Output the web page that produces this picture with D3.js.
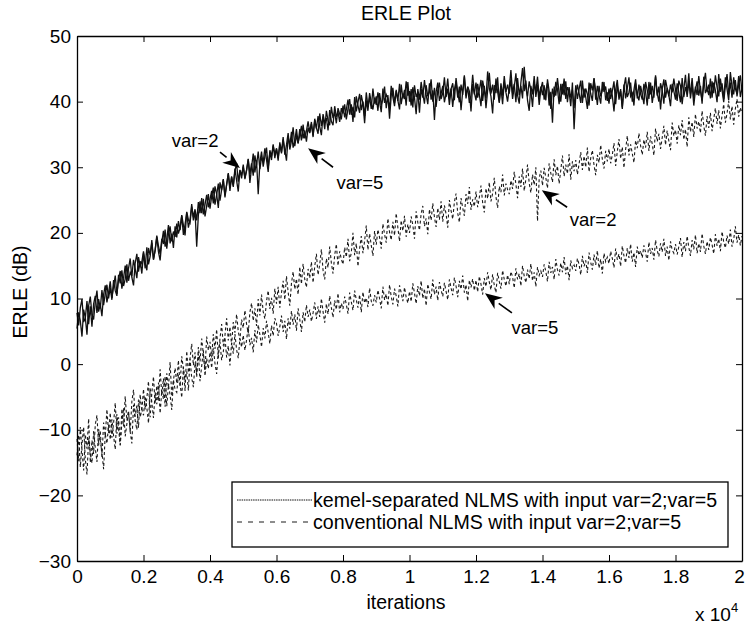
<!DOCTYPE html>
<html>
<head>
    <meta charset="utf-8">
    <title>ERLE Plot</title>
    <script src="https://d3js.org/d3.v7.min.js"></script>
    <style>
        html, body { margin: 0; background: #fff; }
        svg { display: block; }
        text { font-family: "Liberation Sans", Arial, sans-serif; fill: #000; }
        .kern { fill: none; stroke: #111; stroke-width: 1.3px; }
        .conv { fill: none; stroke: #1a1a1a; stroke-width: 1.1px; stroke-dasharray: 3,2.5; }
    </style>
</head>
<body>
    <svg></svg>
    <script>
        // values in dB, one every 50 iterations (0..20000)
        var step = 50;

        var kernelVar2 = [
            7.8, 5.9, 8.6, 9.9, 6.4, 7.1, 4.5, 8.9, 10.3, 7.6, 6.8, 9.5, 11.2, 8.0, 9.1, 7.3, 10.6, 12.0, 9.4, 10.9,
            12.6, 10.1, 11.8, 13.5, 10.7, 12.9, 14.2, 11.5, 13.1, 15.0, 12.4, 14.6, 16.1, 13.2, 12.0, 15.4, 16.8, 14.1, 15.7, 13.8,
            16.9, 14.6, 17.8, 15.2, 16.4, 18.9, 16.0, 17.3, 19.4, 17.1, 15.8, 18.6, 20.3, 17.9, 19.0, 21.2, 18.4, 19.9, 17.7, 21.0,
            19.3, 21.8, 20.4, 22.6, 19.7, 21.3, 23.1, 20.8, 22.0, 24.4, 21.9, 23.3, 17.9, 22.7, 24.8, 23.0, 25.2, 22.5, 24.1, 25.9,
            23.7, 25.6, 26.9, 24.3, 25.8, 27.5, 24.9, 26.6, 28.1, 25.7, 27.3, 29.0, 26.4, 28.6, 27.0, 29.4, 30.6, 27.8, 29.6, 28.3,
            30.4, 28.2, 29.5, 31.3, 27.6, 30.0, 32.1, 29.2, 31.0, 25.9, 30.7, 32.4, 30.1, 31.6, 33.0, 29.9, 32.2, 31.1, 33.5, 31.4,
            32.9, 31.0, 33.8, 32.3, 34.6, 31.9, 33.4, 35.2, 32.7, 34.0, 36.1, 33.2, 34.9, 33.6, 35.8, 34.1, 36.5, 34.4, 35.5, 37.0,
            35.3, 36.9, 34.6, 37.4, 36.0, 35.1, 38.2, 36.3, 37.7, 35.8, 38.6, 37.1, 36.4, 39.2, 37.5, 38.4, 36.7, 39.0, 38.1, 37.3,
            39.4, 37.6, 38.8, 40.3, 38.0, 39.6, 36.9, 40.7, 38.5, 39.9, 41.2, 38.7, 40.0, 37.8, 41.4, 39.3, 40.6, 38.9, 42.0, 39.7,
            40.8, 38.6, 41.3, 39.5, 40.4, 42.3, 39.0, 41.0, 37.4, 40.9, 42.1, 39.8, 41.6, 40.2, 38.8, 42.6, 40.5, 41.8, 39.4, 43.0,
            40.0, 41.9, 39.1, 42.5, 40.7, 41.4, 38.3, 42.0, 40.6, 43.3, 41.1, 39.6, 42.8, 40.3, 41.7, 37.2, 41.5, 42.9, 40.1, 41.2,
            42.4, 39.9, 41.3, 43.5, 40.4, 42.0, 39.2, 41.8, 43.1, 40.6, 42.3, 38.7, 41.6, 43.8, 40.9, 42.2, 39.8, 41.0, 44.1, 41.4,
            40.2, 42.7, 41.1, 39.3, 43.2, 41.8, 40.5, 44.6, 42.0, 40.8, 38.2, 42.5, 41.3, 43.7, 40.0, 42.1, 39.6, 43.0, 41.5, 42.6,
            41.2, 43.4, 40.4, 42.2, 44.3, 41.0, 39.7, 42.9, 45.1, 41.6, 43.2, 40.2, 38.6, 42.4, 41.1, 43.9, 40.7, 42.6, 39.5, 41.9,
            43.0, 40.3, 41.7, 42.8, 39.4, 41.5, 36.8, 42.3, 40.9, 43.6, 41.3, 40.0, 42.7, 41.0, 43.1, 39.9, 42.2, 40.6, 41.8, 39.0,
            42.5, 40.4, 41.9, 43.2, 39.8, 42.0, 40.7, 38.9, 42.9, 41.2, 40.1, 43.5, 41.6, 39.5, 42.4, 40.8, 41.7, 43.0, 40.2, 41.4,
            39.7, 42.1, 40.9, 38.5, 41.8, 43.3, 40.3, 41.6, 39.1, 42.6, 40.5, 42.0, 43.7, 40.8, 41.3, 39.4, 42.8, 41.0, 40.2, 42.4,
            41.1, 39.6, 43.0, 41.7, 40.4, 42.9, 39.8, 41.5, 44.0, 40.9, 42.3, 38.8, 41.9, 43.4, 40.6, 42.1, 41.0, 39.3, 42.7, 41.6,
            40.3, 42.8, 41.4, 39.9, 43.6, 40.7, 42.2, 41.1, 44.3, 40.5, 42.6, 39.4, 41.8, 43.1, 40.9, 42.4, 39.7, 43.8, 41.3, 42.0,
            41.0, 43.5, 40.6, 42.9, 41.7, 39.9, 44.2, 41.5, 42.8, 40.4, 43.7, 41.9, 40.2, 44.5, 42.3, 41.1, 43.3, 40.8, 42.6, 44.0,
            41.5
        ];

        var kernelVar5 = [
            5.4, 7.9, 6.6, 4.2, 8.3, 7.0, 9.6, 6.1, 8.8, 5.7, 9.2, 10.4, 7.8, 9.9, 8.5, 11.3, 9.0, 10.7, 12.1, 10.0,
            11.7, 9.8, 12.8, 11.2, 10.4, 13.6, 12.3, 14.3, 11.9, 13.0, 15.2, 12.7, 14.0, 13.4, 15.9, 14.5, 13.1, 16.3, 14.9, 15.6,
            17.2, 15.5, 14.3, 17.7, 16.6, 18.5, 15.9, 17.4, 19.6, 18.0, 16.8, 19.1, 18.3, 20.5, 17.6, 19.8, 21.0, 18.7, 20.2, 19.4,
            21.4, 19.9, 20.8, 22.7, 21.2, 19.6, 23.2, 22.0, 21.5, 24.0, 22.4, 23.6, 21.9, 24.7, 23.0, 25.3, 22.8, 24.3, 25.8, 23.9,
            25.1, 26.4, 24.5, 27.1, 25.9, 23.8, 27.7, 26.5, 28.2, 25.4, 27.4, 29.1, 26.9, 28.5, 27.2, 29.8, 28.0, 26.3, 29.5, 28.8,
            30.1, 28.4, 29.6, 31.2, 29.0, 30.6, 28.7, 31.8, 30.3, 32.4, 29.7, 31.5, 30.8, 32.9, 31.1, 29.3, 32.6, 31.7, 33.3, 32.0,
            32.8, 31.4, 33.5, 32.1, 34.2, 32.6, 31.0, 34.7, 33.3, 35.4, 33.0, 34.1, 35.8, 33.7, 34.9, 36.3, 34.4, 35.6, 33.9, 36.0,
            35.2, 36.6, 34.8, 37.2, 35.9, 37.8, 36.2, 34.9, 38.1, 36.8, 37.5, 35.6, 38.7, 37.0, 36.4, 39.3, 37.7, 38.4, 36.9, 39.0,
            38.2, 39.6, 37.3, 38.9, 40.4, 38.0, 39.2, 37.6, 40.8, 39.4, 38.3, 41.0, 39.7, 36.7, 40.2, 38.6, 41.3, 39.9, 38.8, 40.6,
            39.5, 41.4, 40.0, 38.4, 42.0, 39.8, 41.1, 40.5, 38.9, 42.4, 40.7, 39.3, 41.8, 40.1, 42.7, 39.6, 41.2, 40.4, 43.1, 40.9,
            41.6, 39.4, 42.2, 40.6, 38.1, 41.9, 40.3, 43.0, 41.2, 39.7, 42.5, 40.8, 41.5, 43.4, 40.0, 42.1, 39.2, 41.7, 42.9, 40.4,
            41.3, 43.7, 40.7, 42.0, 39.5, 41.9, 42.8, 40.2, 43.6, 41.4, 39.9, 42.6, 41.0, 44.0, 40.5, 42.3, 41.6, 38.5, 42.7, 41.1,
            42.9, 40.6, 41.8, 43.3, 40.1, 42.4, 39.0, 41.7, 44.4, 41.2, 42.6, 40.3, 43.5, 41.5, 39.8, 42.8, 40.9, 43.9, 41.4, 40.0,
            42.1, 44.8, 41.3, 42.7, 39.9, 43.6, 41.0, 42.4, 40.5, 45.3, 42.0, 40.8, 43.1, 41.7, 39.2, 42.9, 41.4, 43.8, 40.6, 42.3,
            41.0, 42.5, 40.2, 43.4, 41.6, 38.9, 42.0, 40.7, 43.0, 41.9, 39.6, 42.7, 41.1, 43.5, 40.4, 42.2, 41.5, 39.3, 42.9, 35.8,
            40.9, 42.6, 41.3, 39.8, 43.2, 40.6, 42.0, 41.1, 39.4, 42.8, 41.7, 43.6, 40.3, 42.4, 41.0, 39.7, 43.0, 41.5, 42.3, 40.1,
            42.0, 40.4, 41.6, 43.1, 39.6, 42.5, 40.8, 41.9, 38.9, 42.2, 43.7, 40.7, 41.4, 42.9, 40.0, 41.8, 43.4, 40.5, 42.6, 41.2,
            40.3, 42.7, 41.5, 39.4, 43.0, 41.1, 42.4, 40.6, 43.8, 41.3, 40.0, 42.8, 41.7, 39.7, 43.3, 42.0, 40.8, 42.6, 41.4, 43.5,
            41.8, 40.1, 43.2, 42.4, 39.6, 41.9, 44.1, 40.7, 42.9, 41.2, 43.6, 40.4, 42.3, 41.0, 43.9, 41.6, 40.2, 42.7, 44.4, 41.5,
            42.6, 40.5, 43.1, 41.3, 44.0, 42.2, 40.8, 43.5, 41.7, 39.9, 42.4, 44.2, 41.1, 42.9, 40.6, 43.7, 42.0, 41.2, 43.9, 40.7,
            42.1
        ];

        var convVar2 = [
            -11.4, -14.8, -9.6, -13.1, -16.2, -10.7, -12.9, -8.3, -15.0, -11.6, -13.7, -9.2, -7.8, -12.4, -10.1, -14.3, -8.9, -11.0, -6.9, -10.5,
            -7.4, -11.2, -9.0, -5.9, -10.6, -8.1, -12.3, -6.8, -9.5, -4.9, -8.6, -7.1, -10.4, -5.7, -3.9, -8.0, -6.3, -9.7, -4.6, -7.2,
            -3.8, -6.9, -5.2, -2.6, -8.1, -4.4, -1.9, -6.0, -3.3, -5.6, -0.8, -4.7, -2.2, -6.5, -1.4, -3.6, 0.3, -4.9, -2.5, -0.6,
            -2.9, 0.6, -3.4, 1.2, -0.7, -4.1, 2.0, -1.3, 0.9, 3.1, -0.2, 1.8, -2.0, 2.6, 0.4, 3.9, 1.5, -0.9, 4.2, 2.1,
            3.4, 1.0, 4.6, 2.3, 5.3, 0.9, 3.9, 6.1, 2.8, 4.4, 7.0, 3.6, 5.7, 2.9, 6.4, 4.8, 7.6, 5.0, 3.7, 6.8,
            5.5, 8.2, 6.1, 4.7, 7.9, 9.3, 6.6, 8.5, 5.8, 9.9, 7.4, 10.6, 8.0, 6.9, 9.6, 11.2, 8.4, 10.1, 7.7, 11.5,
            9.2, 11.8, 8.6, 10.9, 12.7, 9.8, 13.4, 11.0, 8.9, 12.3, 14.1, 11.4, 13.0, 10.6, 14.8, 12.2, 15.3, 12.9, 11.7, 14.5,
            13.1, 15.6, 12.4, 14.9, 16.8, 13.6, 15.2, 17.5, 14.3, 12.9, 16.1, 14.7, 17.9, 15.4, 13.8, 16.6, 18.3, 15.0, 17.2, 16.0,
            15.2, 17.8, 16.3, 19.1, 15.7, 17.0, 20.0, 16.6, 18.4, 14.9, 17.6, 19.5, 16.9, 18.8, 21.1, 17.4, 19.9, 18.1, 16.5, 20.3,
            18.2, 20.5, 19.3, 17.6, 21.4, 19.8, 18.5, 22.2, 20.1, 18.9, 21.7, 19.6, 23.0, 20.8, 18.7, 21.9, 20.3, 22.6, 19.4, 21.3,
            20.0, 22.5, 21.2, 19.1, 23.3, 21.6, 20.4, 22.9, 24.1, 21.0, 22.2, 19.8, 23.6, 21.9, 24.5, 22.4, 20.9, 23.8, 22.0, 24.8,
            21.7, 24.2, 22.9, 20.8, 25.0, 23.4, 22.1, 24.7, 26.0, 23.0, 21.6, 25.3, 23.8, 22.6, 25.9, 24.4, 27.0, 23.5, 25.1, 24.0,
            26.3, 23.9, 25.4, 27.2, 24.6, 23.1, 26.8, 25.2, 27.7, 24.8, 26.0, 28.4, 25.5, 23.8, 27.1, 26.2, 28.9, 25.7, 27.5, 26.6,
            25.9, 28.0, 26.7, 29.3, 27.4, 25.3, 28.6, 27.0, 29.8, 26.4, 28.2, 30.4, 27.6, 26.1, 28.9, 27.3, 30.0, 21.8, 28.3, 29.5,
            27.2, 29.9, 28.4, 26.8, 30.6, 29.1, 27.7, 31.2, 28.8, 30.2, 27.5, 29.6, 31.8, 28.6, 30.4, 29.0, 32.0, 28.1, 30.9, 29.4,
            31.1, 28.9, 30.5, 32.3, 29.6, 31.7, 30.0, 33.0, 29.3, 31.4, 32.6, 30.3, 28.8, 31.9, 30.7, 33.4, 31.2, 29.8, 32.5, 30.9,
            32.8, 30.6, 31.9, 33.7, 30.2, 32.4, 34.3, 31.3, 33.1, 29.9, 32.7, 34.8, 31.8, 33.5, 32.1, 30.7, 34.1, 32.9, 35.2, 33.3,
            31.9, 34.2, 33.0, 35.4, 32.5, 34.7, 33.6, 31.8, 35.9, 33.9, 35.1, 32.8, 34.5, 36.3, 33.4, 35.6, 34.0, 32.6, 36.8, 34.8,
            35.7, 33.6, 36.4, 34.9, 37.2, 34.2, 35.8, 33.1, 37.6, 35.4, 36.9, 34.6, 38.1, 35.9, 37.0, 35.2, 38.6, 36.3, 34.8, 37.8,
            36.0, 38.3, 35.5, 37.4, 39.0, 36.6, 38.7, 35.9, 37.9, 39.6, 36.8, 38.2, 40.1, 37.3, 39.3, 36.5, 38.9, 40.4, 37.7, 39.1,
            38.2
        ];

        var convVar5 = [
            -13.9, -10.8, -15.7, -12.2, -9.6, -14.5, -16.8, -11.3, -13.6, -15.1, -10.2, -12.8, -14.9, -9.9, -11.7, -13.4, -16.0, -10.6, -12.1, -9.3,
            -11.5, -8.4, -10.9, -13.0, -7.6, -9.8, -12.4, -8.9, -6.7, -11.0, -9.1, -7.3, -10.3, -12.1, -6.2, -8.6, -10.0, -5.4, -8.1, -6.9,
            -7.8, -4.9, -6.6, -9.0, -3.7, -5.8, -8.2, -4.3, -6.1, -2.8, -7.5, -4.0, -5.3, -1.9, -6.4, -3.2, -4.7, -7.0, -2.4, -3.9,
            -4.3, -1.6, -3.0, -5.1, -0.4, -2.7, -1.1, -4.0, 0.8, -2.1, -3.5, 0.2, -1.4, 1.6, -2.6, -0.3, 2.1, -1.8, 0.9, -0.7,
            1.8, -0.6, 2.5, 0.1, -1.5, 2.0, 3.4, 0.6, 1.9, 4.1, 1.0, 2.8, -0.2, 3.3, 1.6, 4.6, 2.2, 0.9, 3.9, 2.6,
            4.4, 2.1, 3.7, 5.6, 2.9, 4.0, 1.8, 5.2, 3.3, 6.0, 4.5, 2.6, 5.5, 3.9, 6.6, 4.8, 3.1, 5.9, 4.3, 7.0,
            6.2, 4.3, 5.7, 7.4, 4.9, 6.6, 3.8, 7.0, 5.4, 8.1, 6.0, 7.6, 5.1, 8.5, 6.8, 4.9, 7.9, 6.4, 9.0, 7.2,
            8.3, 6.5, 7.8, 9.4, 6.9, 8.8, 7.2, 10.0, 8.0, 6.3, 9.2, 7.6, 10.4, 8.6, 7.1, 9.7, 8.3, 10.8, 7.9, 9.3,
            8.4, 10.3, 9.1, 7.7, 10.9, 9.5, 8.2, 11.2, 9.8, 8.6, 10.6, 7.9, 11.0, 9.3, 10.1, 8.7, 11.6, 9.6, 8.9, 10.5,
            9.4, 11.3, 10.0, 8.5, 11.8, 9.8, 10.7, 8.9, 12.1, 10.3, 9.1, 11.5, 10.4, 8.8, 12.0, 10.9, 9.6, 11.7, 10.2, 9.3,
            11.1, 9.5, 12.3, 10.8, 9.2, 11.9, 10.4, 12.7, 10.0, 11.5, 8.9, 12.2, 11.0, 9.9, 12.9, 10.6, 11.8, 9.7, 12.5, 11.3,
            10.3, 12.4, 11.1, 9.8, 12.9, 11.6, 10.5, 13.2, 11.9, 10.2, 12.7, 11.4, 13.5, 10.9, 12.1, 9.6, 12.8, 11.7, 13.0, 11.2,
            12.8, 11.0, 13.4, 12.2, 10.6, 13.1, 11.8, 14.0, 12.5, 11.3, 13.7, 12.0, 10.9, 13.9, 12.6, 11.5, 14.3, 12.9, 11.9, 13.6,
            12.2, 14.1, 13.3, 11.6, 14.6, 12.9, 13.8, 11.9, 15.0, 13.4, 12.4, 14.4, 13.0, 15.3, 12.7, 14.0, 11.8, 14.8, 13.5, 14.2,
            13.3, 15.2, 14.1, 12.6, 15.6, 13.9, 14.8, 12.9, 16.0, 14.4, 13.5, 15.4, 14.0, 16.3, 13.7, 15.0, 12.8, 15.8, 14.6, 15.1,
            14.2, 16.1, 15.2, 13.6, 16.5, 14.9, 15.8, 13.9, 17.0, 15.5, 14.4, 16.7, 15.1, 17.3, 14.6, 16.0, 13.8, 16.9, 15.6, 16.3,
            15.3, 17.2, 16.1, 14.7, 17.6, 15.9, 16.8, 14.9, 18.0, 16.5, 15.4, 17.7, 16.2, 18.3, 15.6, 17.0, 14.8, 17.9, 16.6, 17.3,
            16.2, 18.1, 17.0, 15.6, 18.6, 16.8, 17.7, 15.9, 18.9, 17.3, 16.4, 18.4, 17.1, 19.1, 16.5, 17.9, 15.8, 18.7, 17.4, 16.9,
            18.3, 16.7, 17.9, 19.2, 16.3, 18.6, 17.2, 19.5, 17.8, 16.5, 18.9, 17.5, 19.7, 16.9, 18.4, 17.1, 19.9, 18.0, 16.8, 18.7,
            17.4, 19.3, 18.2, 16.8, 19.8, 18.0, 19.1, 17.2, 20.2, 18.6, 17.7, 19.6, 18.3, 20.5, 17.9, 19.0, 21.0, 18.5, 19.7, 18.1,
            19.5
        ];

        var xTicks = [0, 2000, 4000, 6000, 8000, 10000, 12000, 14000, 16000, 18000, 20000];
        var yTicks = [-30, -20, -10, 0, 10, 20, 30, 40, 50];

        var legendLabels = [
            "kemel-separated NLMS with input var=2;var=5",
            "conventional NLMS with input var=2;var=5"
        ];

        // annotation label position and arrow tail -> head, in data units
        var notes = [
            { label: "var=2", tx: 3550, ty: 34.1, x1: 4300, y1: 32.3, x2: 4900, y2: 29.9 },
            { label: "var=5", tx: 8510, ty: 27.7, x1: 7700, y1: 30.0, x2: 6950, y2: 32.9 },
            { label: "var=2", tx: 15520, ty: 22.0, x1: 14740, y1: 23.9, x2: 13980, y2: 26.5 },
            { label: "var=5", tx: 13770, ty: 5.6, x1: 13080, y1: 7.8, x2: 12270, y2: 10.8 }
        ];

        var W = 746, H = 628;
        var margin = { left: 77, right: 4, top: 36, bottom: 67 };

        var svg = d3.select("svg").attr("width", W).attr("height", H);

        var x = d3.scaleLinear().domain([0, 20000]).range([margin.left, W - margin.right]);
        var y = d3.scaleLinear().domain([-30, 50]).range([H - margin.bottom, margin.top]);

        var line = d3.line().x((d, i) => x(i * step)).y(d => y(d));

        var plot = svg.append("g");
        plot.append("path").datum(convVar5).attr("class", "conv").attr("d", line);
        plot.append("path").datum(convVar2).attr("class", "conv").attr("d", line);
        plot.append("path").datum(kernelVar5).attr("class", "kern").attr("d", line);
        plot.append("path").datum(kernelVar2).attr("class", "kern").attr("d", line);

        // matlab style box: ticks inside on all four sides
        var tickLen = 6;
        var fmtX = d => d3.format("~g")(d / 10000);

        svg.append("g")
            .attr("class", "xaxis")
            .attr("transform", `translate(0,${y(-30)})`)
            .call(d3.axisBottom(x).tickValues(xTicks).tickSizeInner(-tickLen).tickSizeOuter(0).tickPadding(9).tickFormat(fmtX));
        svg.append("g")
            .attr("transform", `translate(0,${y(50)})`)
            .call(d3.axisTop(x).tickValues(xTicks).tickSizeInner(-tickLen).tickSizeOuter(0).tickFormat(""));
        svg.append("g")
            .attr("transform", `translate(${x(0)},0)`)
            .call(d3.axisLeft(y).tickValues(yTicks).tickSizeInner(-tickLen).tickSizeOuter(0).tickPadding(6));
        svg.append("g")
            .attr("transform", `translate(${x(20000)},0)`)
            .call(d3.axisRight(y).tickValues(yTicks).tickSizeInner(-tickLen).tickSizeOuter(0).tickFormat(""));

        svg.selectAll(".domain").attr("stroke", "#000").attr("stroke-width", 1.3);
        svg.selectAll(".tick line").attr("stroke", "#000").attr("stroke-width", 1);
        svg.selectAll(".tick text").attr("font-size", 19).attr("font-family", "Liberation Sans, Arial, sans-serif");
        // last label sits at the window edge; nudge it in so it is not clipped
        svg.select(".xaxis").selectAll(".tick text").filter(d => d === 20000).attr("dx", -3);

        // titles
        svg.append("text").attr("x", 406).attr("y", 20).attr("text-anchor", "middle")
            .attr("font-size", 19.5).text("ERLE Plot");
        svg.append("text").attr("x", 406).attr("y", 609).attr("text-anchor", "middle")
            .attr("font-size", 19.5).text("iterations");
        svg.append("text")
            .attr("transform", "translate(27,292) rotate(-90)")
            .attr("text-anchor", "middle").attr("font-size", 19.5).text("ERLE (dB)");
        var mult = svg.append("text").attr("x", 695).attr("y", 621).attr("font-size", 19);
        mult.append("tspan").text("x 10");
        mult.append("tspan").attr("dy", -9).attr("font-size", 13).text("4");

        // annotations with filled arrowheads
        notes.forEach(function(n) {
            svg.append("text").attr("x", x(n.tx)).attr("y", y(n.ty)).attr("dy", "0.35em")
                .attr("text-anchor", "middle").attr("font-size", 18.5).text(n.label);
            var x1 = x(n.x1), y1 = y(n.y1), x2 = x(n.x2), y2 = y(n.y2);
            var ang = Math.atan2(y2 - y1, x2 - x1);
            var hl = 17, hw = 7;
            var bx = x2 - hl * Math.cos(ang), by = y2 - hl * Math.sin(ang);
            svg.append("line").attr("x1", x1).attr("y1", y1).attr("x2", bx).attr("y2", by)
                .attr("stroke", "#000").attr("stroke-width", 1.6);
            var px = -Math.sin(ang) * hw, py = Math.cos(ang) * hw;
            var nx = x2 - hl * 0.7 * Math.cos(ang), ny = y2 - hl * 0.7 * Math.sin(ang);
            svg.append("path")
                .attr("d", `M${x2},${y2} L${bx + px},${by + py} L${nx},${ny} L${bx - px},${by - py} Z`)
                .attr("fill", "#000");
        });

        // legend
        var lg = svg.append("g");
        lg.append("rect").attr("x", 232).attr("y", 482).attr("width", 496).attr("height", 65)
            .attr("fill", "#fff").attr("stroke", "#000").attr("stroke-width", 1.3);
        legendLabels.forEach(function(t, i) {
            var yy = 500 + i * 22;
            lg.append("line").attr("x1", 237).attr("x2", 312).attr("y1", yy).attr("y2", yy)
                .attr("class", i === 0 ? "kern" : "conv")
                .style("stroke-width", "1px")
                .style("stroke-dasharray", i === 0 ? "1.5,0.8" : "5,6");
            lg.append("text").attr("x", 313).attr("y", yy).attr("dy", "0.36em")
                .attr("font-size", 19.6).text(t);
        });
    </script>
</body>
</html>
